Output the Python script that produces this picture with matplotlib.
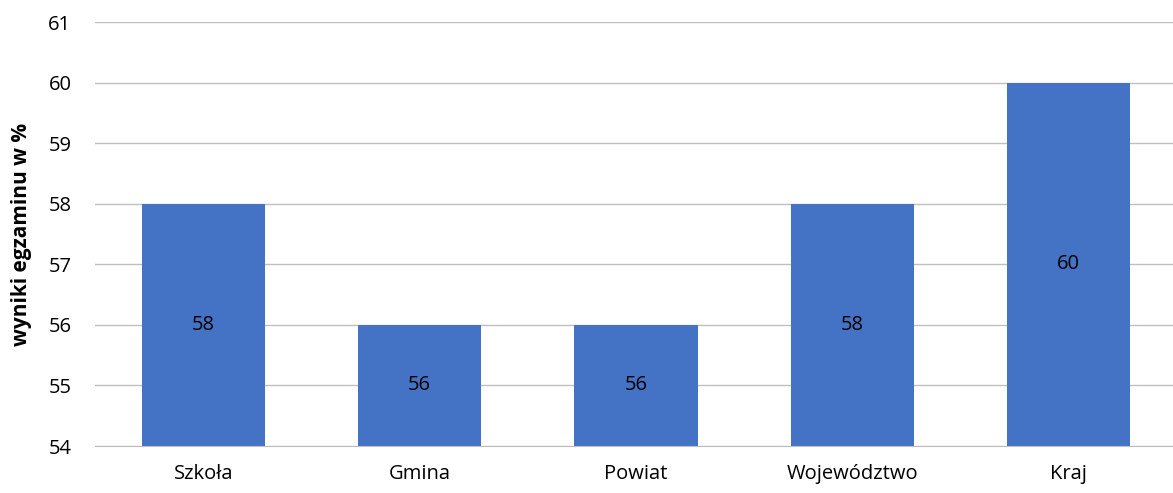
import matplotlib
matplotlib.use("Agg")
import matplotlib.pyplot as plt

categories = ["Szkoła", "Gmina", "Powiat", "Województwo", "Kraj"]
values = [58, 56, 56, 58, 60]
y_ticks = [54, 55, 56, 57, 58, 59, 60, 61]

plt.rcParams['font.family'] = ['Open Sans', 'DejaVu Sans']

W, H = 1173, 493
fig = plt.figure(figsize=(W/100, H/100), dpi=100)
ax = fig.add_axes([95/W, (H-446)/H, 1082/W, 424/H])

x = list(range(len(categories)))
ax.bar(x, [v - 54 for v in values], bottom=54, width=0.57, color="#4472C4", zorder=3)
for xi, v in zip(x, values):
    ax.text(xi, (54 + v) / 2, str(v), ha="center", va="center", fontsize=14.5, color="#000000", zorder=4)

ax.set_xlim(-0.5, len(categories) - 0.5)
ax.set_ylim(54, 61)
ax.set_yticks(y_ticks)
ax.set_xticks(x)
ax.set_xticklabels(categories)
ax.tick_params(axis="both", length=0, labelsize=14.5, colors="#000000")
ax.tick_params(axis="y", pad=17)
ax.tick_params(axis="x", pad=13)
ax.yaxis.grid(True, color="#BFBFBF", linewidth=1, zorder=0)
for s in ["top", "right", "left"]:
    ax.spines[s].set_visible(False)
ax.spines["bottom"].set_color("#BFBFBF")
ax.spines["bottom"].set_zorder(5)
ax.set_ylabel("wyniki egzaminu w %", fontsize=15, fontweight="bold", labelpad=12)

fig.savefig("out.png", dpi=100)
